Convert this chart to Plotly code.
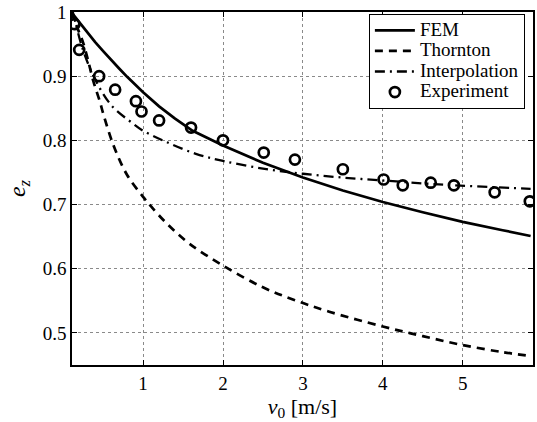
import plotly.graph_objects as go

# Restitution coefficient versus impact velocity
fem_v = [0.1, 0.2, 0.3, 0.4, 0.5, 0.6, 0.7, 0.8, 0.9, 1.0, 1.2, 1.4, 1.62, 2.0, 2.5, 3.0, 3.5, 4.0, 4.5, 5.0, 5.5, 5.85]
fem_e = [1.0, 0.984, 0.968, 0.953, 0.939, 0.925, 0.912, 0.899, 0.887, 0.875, 0.853, 0.834, 0.815, 0.792, 0.765, 0.742, 0.722, 0.704, 0.688, 0.673, 0.660, 0.651]

thornton_v = [0.1, 0.2, 0.25, 0.31, 0.38, 0.46, 0.5, 0.63, 0.8, 1.0, 1.1, 1.3, 1.58, 2.0, 2.5, 2.9, 3.33, 4.0, 4.5, 5.0, 5.5, 5.85]
thornton_e = [1.0, 0.968, 0.952, 0.925, 0.891, 0.860, 0.842, 0.792, 0.746, 0.712, 0.697, 0.670, 0.639, 0.605, 0.571, 0.551, 0.533, 0.510, 0.495, 0.481, 0.470, 0.464]

interp_v = [0.12, 0.15, 0.25, 0.4, 0.6, 0.875, 1.0, 1.3, 1.66, 2.0, 2.5, 3.0, 3.5, 4.0, 4.5, 4.9, 5.4, 5.85]
interp_e = [1.0, 0.985, 0.94, 0.895, 0.855, 0.826, 0.815, 0.797, 0.779, 0.768, 0.756, 0.748, 0.742, 0.7375, 0.733, 0.730, 0.727, 0.7245]

exp_v = [0.14, 0.20, 0.45, 0.65, 0.91, 0.98, 1.2, 1.6, 2.0, 2.51, 2.9, 3.5, 4.01, 4.25, 4.6, 4.89, 5.4, 5.84]
exp_e = [0.981, 0.941, 0.900, 0.879, 0.861, 0.845, 0.831, 0.820, 0.800, 0.781, 0.770, 0.755, 0.739, 0.730, 0.734, 0.730, 0.719, 0.705]

series_names = ["FEM", "Thornton", "Interpolation", "Experiment"]

x_ticks = [1, 2, 3, 4, 5]
y_ticks = [0.5, 0.6, 0.7, 0.8, 0.9, 1.0]
y_labels = ["0.5", "0.6", "0.7", "0.8", "0.9", "1"]

FONT = "'Liberation Serif', 'Times New Roman', Times, serif"


def legend_label(text):
    # Larger glyphs than the legend's base size keep the rows compact
    return f'<span style="font-size:19px">{text}</span>'


fig = go.Figure()
fig.add_trace(go.Scatter(x=fem_v, y=fem_e, mode="lines", name=legend_label(series_names[0]),
                         line=dict(color="black", width=2.7)))
fig.add_trace(go.Scatter(x=thornton_v, y=thornton_e, mode="lines", name=legend_label(series_names[1]),
                         line=dict(color="black", width=2.7, dash="8px,6px", shape="spline")))
fig.add_trace(go.Scatter(x=interp_v, y=interp_e, mode="lines", name=legend_label(series_names[2]),
                         line=dict(color="black", width=2.3, dash="10px,5px,2px,5px", shape="spline")))
fig.add_trace(go.Scatter(x=exp_v, y=exp_e, mode="markers", name=legend_label(series_names[3]),
                         marker=dict(symbol="circle-open", size=10, color="black",
                                     line=dict(width=2.7, color="black"))))

axis_common = dict(
    showline=True, linecolor="black", linewidth=1.5, mirror="ticks",
    ticks="inside", ticklen=5, tickcolor="black",
    showgrid=True, gridcolor="#8a8a8a", griddash="dot", gridwidth=1,
    zeroline=False,
    tickfont=dict(family=FONT, size=19, color="black"),
)

fig.update_xaxes(range=[0.11, 5.88], tickvals=x_ticks,
                 title=dict(text="<i>v</i><sub>0</sub> [m/s]",
                            font=dict(family=FONT, size=22, color="black"), standoff=4),
                 **axis_common)
fig.update_yaxes(range=[0.45, 1.0], tickvals=y_ticks, ticktext=y_labels,
                 title=dict(text="<i>e<sub>z</sub></i>",
                            font=dict(family=FONT, size=24, color="black"), standoff=10),
                 **axis_common)

fig.update_layout(
    width=537, height=422,
    margin=dict(l=72, r=2, t=12, b=57),
    paper_bgcolor="white", plot_bgcolor="white",
    showlegend=True,
    legend=dict(x=0.644, y=0.994, xanchor="left", yanchor="top",
                bgcolor="white", bordercolor="black", borderwidth=1,
                font=dict(family=FONT, size=13.5, color="black"),
                itemwidth=40, tracegroupgap=0),
)

fig.write_html("out.html")
